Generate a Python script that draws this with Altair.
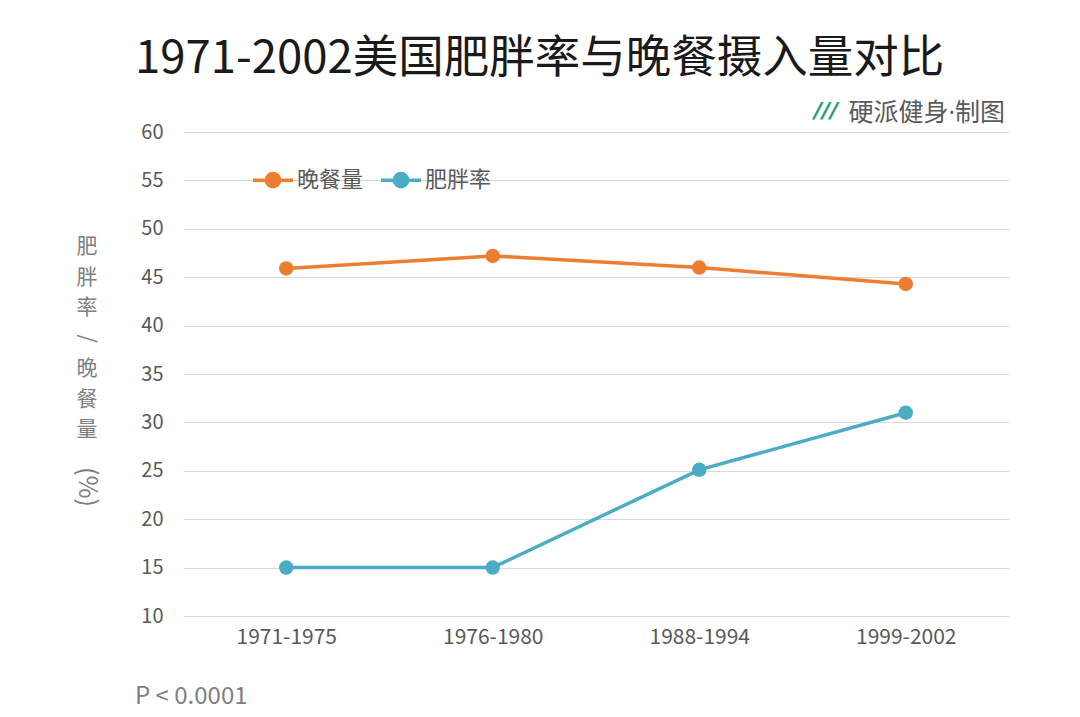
import altair as alt
import pandas as pd

periods = ["1971-1975", "1976-1980", "1988-1994", "1999-2002"]
dinner = [45.9, 47.2, 46.0, 44.3]
obesity = [15.0, 15.0, 25.1, 31.0]
series_names = ["晚餐量", "肥胖率"]
colors = ["#ED7D31", "#4BACC6"]
y_ticks = list(range(10, 61, 5))

title_text = "1971-2002美国肥胖率与晚餐摄入量对比"
brand_text = "硬派健身·制图"
y_title_chars = ["肥", "胖", "率", "/", "晚", "餐", "量"]
y_title_unit = "(%)"
note_text = "P < 0.0001"

FONT = "Noto Sans CJK SC"
MIX_FONT = "Open Sans, Noto Sans CJK SC"

df = pd.DataFrame({
    "period": periods * 2,
    "value": dinner + obesity,
    "series": [series_names[0]] * len(periods) + [series_names[1]] * len(periods),
})

legend_symbol = ("M-1,0L-0.33,0M0.33,0L1,0"
                 "M-0.33,0A0.33,0.33 0 1,0 0.33,0A0.33,0.33 0 1,0 -0.33,0Z")

lines = alt.Chart(df).mark_line(
    strokeWidth=3.5,
    point=alt.OverlayMarkDef(filled=True, size=210, opacity=1),
).encode(
    x=alt.X("period:N", sort=periods,
            axis=alt.Axis(title=None, labelAngle=0, ticks=False, domain=False,
                          grid=False, labelFontSize=21, labelColor="#595959",
                          labelFont=FONT, labelPadding=10)),
    y=alt.Y("value:Q",
            scale=alt.Scale(domain=[10, 60], nice=False, zero=False),
            axis=alt.Axis(title=None, values=y_ticks, ticks=False, domain=False,
                          grid=True, gridColor="#d9d9d9", gridWidth=1.2,
                          labelFontSize=20, labelColor="#595959",
                          labelFont=FONT, labelPadding=20)),
    color=alt.Color("series:N",
                    scale=alt.Scale(domain=series_names, range=colors),
                    legend=alt.Legend(title=None, orient="none", legendX=68, legendY=26,
                                      direction="horizontal", symbolType=legend_symbol,
                                      symbolSize=1600, symbolStrokeWidth=3.5,
                                      labelFontSize=22, labelColor="#595959",
                                      labelFont=FONT, columnPadding=10, labelOffset=2)),
)

def label(text, x, y, size, color, align="left", baseline="middle", angle=0,
          font=FONT, **kw):
    return alt.Chart(pd.DataFrame({"t": [text]})).mark_text(
        align=align, baseline=baseline, fontSize=size, font=font, color=color,
        angle=angle, **kw
    ).encode(x=alt.value(x), y=alt.value(y), text="t:N")

layers = [lines]
layers.append(label(title_text, -48, -59, 45.5, "#1a1a1a", baseline="alphabetic"))
layers.append(label(brand_text, 822, -19, 25, "#595959", align="right", font=MIX_FONT))
layers.append(label("///", 655, -21, 22, "#1E9E73", align="right", font="DejaVu Sans",
                    fontWeight="bold", fontStyle="italic"))

char_y = [115, 145.5, 176, 206.5, 237, 267.5, 298]
for ch, yy in zip(y_title_chars, char_y):
    layers.append(label(ch, -96, yy, 21, "#7f7f7f", align="center",
                        angle=90 if ch == "/" else 0))
layers.append(label(y_title_unit, -96, 355, 25, "#7f7f7f", align="center", angle=90))
layers.append(label(note_text, -48, 565, 24, "#7f7f7f"))

chart = alt.layer(*layers).properties(
    width=826, height=484,
    autosize=alt.AutoSizeParams(type="none"),
    padding={"left": 183, "top": 132, "right": 71, "bottom": 101},
    background="white",
).configure_view(stroke=None)

chart.save("out.html", embed_options={"renderer": "svg", "actions": False})
